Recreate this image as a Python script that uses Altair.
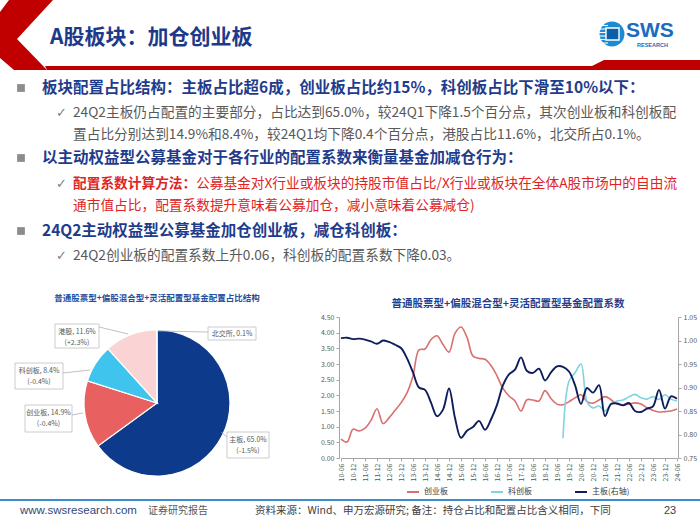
import altair as alt
import pandas as pd

FONT = "Noto Sans CJK SC"
LATIN = "Liberation Sans"

# ---------------- data ----------------
quarters = [
    "10-06", "10-09", "10-12",
    "11-03", "11-06", "11-09", "11-12",
    "12-03", "12-06", "12-09", "12-12",
    "13-03", "13-06", "13-09", "13-12",
    "14-03", "14-06", "14-09", "14-12",
    "15-03", "15-06", "15-09", "15-12",
    "16-03", "16-06", "16-09", "16-12",
    "17-03", "17-06", "17-09", "17-12",
    "18-03", "18-06", "18-09", "18-12",
    "19-03", "19-06", "19-09", "19-12",
    "20-03", "20-06", "20-09", "20-12",
    "21-03", "21-06", "21-09", "21-12",
    "22-03", "22-06", "22-09", "22-12",
    "23-03", "23-06", "23-09", "23-12",
    "24-03", "24-06",
]
tick_labels = [
    "10-06", "10-12", "11-06", "11-12", "12-06", "12-12", "13-06", "13-12",
    "14-06", "14-12", "15-06", "15-12", "16-06", "16-12", "17-06", "17-12",
    "18-06", "18-12", "19-06", "19-12", "20-06", "20-12", "21-06", "21-12",
    "22-06", "22-12", "23-06", "23-12", "24-06",
]
# 创业板 配置系数 (left axis)
chinext = [
    0.60, 0.51, 0.92, 0.86, 0.95, 1.20, 1.57, 1.10, 1.28, 1.52, 1.76,
    2.08, 2.62, 3.45, 3.48, 3.78, 3.90, 3.62, 3.38, 3.98, 4.18, 3.85, 3.25,
    3.18, 3.15, 2.95, 2.62, 2.22, 1.98, 1.82, 1.50, 1.86, 1.85, 1.82, 2.15,
    1.90, 1.72, 1.70, 1.80, 1.92, 2.02, 1.80, 1.75, 1.85, 1.96, 1.86, 1.72,
    1.70, 1.72, 1.76, 1.72, 1.60, 1.52, 1.47, 1.48, 1.50, 1.56,
]
# 科创板 配置系数 (left axis), from 19-09
star_start = "19-09"
star = [
    0.63, 2.45, 2.72, 3.00, 1.80, 1.60, 1.66, 1.50, 1.72, 1.82,
    1.85, 1.95, 2.03, 1.92, 1.88, 1.96, 1.87, 2.02, 1.88, 1.82,
]
# 主板 配置系数 (right axis)
main_board = [
    1.005, 1.006, 1.003, 1.004, 1.002, 0.998, 0.993, 1.000, 0.997, 0.991, 0.984,
    0.962, 0.932, 0.900, 0.895, 0.868, 0.839, 0.853, 0.898, 0.835, 0.793, 0.808, 0.816,
    0.829, 0.810, 0.832, 0.863, 0.905, 0.928, 0.938, 0.964, 0.935, 0.931, 0.940, 0.915,
    0.932, 0.945, 0.944, 0.934, 0.905, 0.865, 0.899, 0.889, 0.905, 0.839, 0.865, 0.866,
    0.862, 0.867, 0.850, 0.848, 0.855, 0.860, 0.895, 0.855, 0.881, 0.876,
]
series_names = ["创业板", "科创板", "主板(右轴)"]
left_ticks = [0.0, 0.5, 1.0, 1.5, 2.0, 2.5, 3.0, 3.5, 4.0, 4.5]
right_ticks = [0.75, 0.80, 0.85, 0.90, 0.95, 1.00, 1.05]

segments = ["主板", "创业板", "科创板", "港股", "北交所"]
shares = [65.0, 14.9, 8.4, 11.6, 0.1]
changes = ["-1.5%", "-0.4%", "-0.4%", "+2.3%", ""]

# ---------------- styles ----------------
RED = "#c00000"
BLUE_TXT = "#1f3c8c"
GRAY_TXT = "#595959"
line_colors = ["#d9706e", "#7fd4e0", "#0f1d5a"]
pie_colors = ["#0e3a8c", "#e8605f", "#3fc4ee", "#fad4d4", "#7f7f7f"]

one = pd.DataFrame({"k": [0]})


def txt(s, x, y, size, color, weight="normal", align="left", font=FONT):
    return alt.Chart(one).mark_text(
        text=s, fontSize=size, color=color, fontWeight=weight,
        align=align, baseline="middle", font=font,
    ).encode(x=alt.value(x), y=alt.value(y))


def rule(x1, y1, x2, y2, color, w):
    return alt.Chart(one).mark_rule(color=color, strokeWidth=w).encode(
        x=alt.value(x1), y=alt.value(y1), x2=alt.value(x2), y2=alt.value(y2))


def box(x1, y1, x2, y2, fill, stroke, w=0.8):
    return alt.Chart(one).mark_rect(fill=fill, stroke=stroke, strokeWidth=w).encode(
        x=alt.value(x1), y=alt.value(y1), x2=alt.value(x2), y2=alt.value(y2))


def polygons(polys, color):
    cx, cy, s = 350.0, 262.5, 350.0
    parts = []
    for pts in polys:
        parts.append("M" + " L".join(f"{(px - cx) / s:.5f},{(py - cy) / s:.5f}" for px, py in pts) + " Z")
    return alt.Chart(one).mark_point(
        shape=" ".join(parts), filled=True, size=(2 * s) ** 2, color=color,
        opacity=1, strokeWidth=0,
    ).encode(x=alt.value(cx), y=alt.value(cy))


layers = []

# ---------- header ----------
layers.append(polygons([
    [(9, 0), (53, 0), (17, 39), (47, 70), (14, 70), (0, 58), (0, 12)],
    [(45, 66), (592, 66), (604, 60), (700, 60), (700, 70), (47, 70)],
], RED))
layers.append(txt("A股板块：加仓创业板", 50, 38, 21, "#1d3a8a", "bold"))
# logo
layers.append(alt.Chart(one).mark_point(shape="circle", filled=True, size=620, color="#1a8ad4", opacity=1)
              .encode(x=alt.value(612), y=alt.value(34)))
for yy in [25.5, 29, 32.5, 36, 39.5, 43]:
    layers.append(rule(599, yy, 608, yy, "white", 1.1))
layers.append(box(606, 28, 619, 40, "#0d5fa8", "white", 1.4))
layers.append(txt("SWS", 626, 31, 21, "#1a6cbc", "bold", font=LATIN))
layers.append(txt("RESEARCH", 637, 45, 5.5, "#1a6cbc", "bold", font=LATIN))

# ---------- bullets ----------
def square(x, y):
    return alt.Chart(one).mark_square(size=60, color="#8c8c8c", opacity=1).encode(
        x=alt.value(x), y=alt.value(y))


def check(x, y):
    return txt("✓", x, y, 13, "#7f7f7f", font="DejaVu Sans")


layers += [
    square(21, 88),
    txt("板块配置占比结构：主板占比超6成，创业板占比约15%，科创板占比下滑至10%以下：", 42, 88, 15.5, BLUE_TXT, "bold"),
    check(56, 113),
    txt("24Q2主板仍占配置的主要部分，占比达到65.0%，较24Q1下降1.5个百分点，其次创业板和科创板配", 73, 113, 13.7, GRAY_TXT),
    txt("置占比分别达到14.9%和8.4%，较24Q1均下降0.4个百分点，港股占比11.6%，北交所占0.1%。", 73, 135, 13.7, GRAY_TXT),
    square(21, 158),
    txt("以主动权益型公募基金对于各行业的配置系数来衡量基金加减仓行为：", 42, 158, 15.5, BLUE_TXT, "bold"),
    check(56, 184),
    txt("配置系数计算方法：", 73, 184, 13.7, "#e02424", "bold"),
    txt("公募基金对X行业或板块的持股市值占比/X行业或板块在全体A股市场中的自由流", 196, 184, 13.7, "#e02424"),
    txt("通市值占比，配置系数提升意味着公募加仓，减小意味着公募减仓)", 73, 206, 13.7, "#e02424"),
    square(21, 231),
    txt("24Q2主动权益型公募基金加仓创业板，减仓科创板：", 42, 231, 15.5, BLUE_TXT, "bold"),
    check(56, 256),
    txt("24Q2创业板的配置系数上升0.06，科创板的配置系数下降0.03。", 73, 256, 13.7, GRAY_TXT),
]

# ---------- pie ----------
layers.append(txt("普通股票型+偏股混合型+灵活配置型基金配置占比结构", 157, 298, 8.5, "#1f4e9c", "bold", "center"))
pie_df = pd.DataFrame({"segment": segments, "share": shares, "order": list(range(len(segments)))})
pie = alt.Chart(pie_df).mark_arc(outerRadius=73, stroke="white", strokeWidth=1.2).encode(
    theta=alt.Theta("share:Q", stack=True),
    color=alt.Color("segment:N", scale=alt.Scale(domain=segments, range=pie_colors), legend=None),
    order=alt.Order("order:Q"),
    x=alt.value(157), y=alt.value(403),
)
layers.append(pie)

# pie callouts: (box x1, y1, x2, y2, leader x1, y1, x2, y2)
callouts = {
    "港股": (55, 324, 99, 348, 99, 327, 128, 334),
    "北交所": (208, 327, 256, 340, 208, 332, 158, 331),
    "科创板": (15, 363, 63, 389, 63, 373, 90, 370),
    "创业板": (25, 405, 72, 432, 72, 415, 83, 413),
    "主板": (227, 432, 269, 458, 227, 437, 221, 432),
}
for seg, share, chg in zip(segments, shares, changes):
    bx1, by1, bx2, by2, lx1, ly1, lx2, ly2 = callouts[seg]
    layers.append(rule(lx1, ly1, lx2, ly2, "#a6a6a6", 0.7))
    layers.append(box(bx1, by1, bx2, by2, "white", "#bfbfbf"))
    cxm = (bx1 + bx2) / 2
    if chg:
        layers.append(txt(f"{seg}, {share:.1f}%", cxm, by1 + 7.5, 7, GRAY_TXT, align="center"))
        layers.append(txt(f"({chg})", cxm, by1 + 18.5, 7, GRAY_TXT, align="center"))
    else:
        layers.append(txt(f"{seg}, {share:.1f}%", cxm, (by1 + by2) / 2, 7, GRAY_TXT, align="center"))

# ---------- line chart ----------
layers.append(txt("普通股票型+偏股混合型+灵活配置型基金配置系数", 508, 304, 10.5, "#1f3f8f", "bold", "center"))

x_scale = alt.Scale(type="point", domain=quarters, range=[341, 677], padding=0)
yl_scale = alt.Scale(domain=[0, 4.5], range=[458, 317], nice=False, zero=False)
yr_scale = alt.Scale(domain=[0.75, 1.05], range=[458, 317], nice=False, zero=False)
color_scale = alt.Scale(domain=series_names, range=line_colors)

axis_style = dict(title=None, labelFont=FONT, labelFontSize=7, labelColor=GRAY_TXT,
                  domainColor="#a6a6a6", tickColor="#a6a6a6", tickSize=3, grid=False,
                  labelPadding=2)
x_axis = alt.Axis(orient="bottom", offset=-67, values=tick_labels, labelAngle=270, **axis_style)
left_axis = alt.Axis(orient="left", offset=-339, values=left_ticks, format=".2f", **axis_style)
right_axis = alt.Axis(orient="right", offset=-22, values=right_ticks, format=".2f", **axis_style)
legend = alt.Legend(title=None, orient="none", legendX=406, legendY=485, direction="horizontal",
                    symbolType="stroke", symbolSize=144, symbolStrokeWidth=2, labelFont=FONT,
                    labelFontSize=8, labelColor="#404040", columnPadding=39, padding=0,
                    labelOffset=4)

cy_df = pd.DataFrame({"quarter": quarters, "value": chinext, "series": series_names[0]})
kc_df = pd.DataFrame({"quarter": quarters[quarters.index(star_start):], "value": star,
                      "series": series_names[1]})
mb_df = pd.DataFrame({"quarter": quarters, "value": main_board, "series": series_names[2]})


def line_layer(df, yscale, axis, w):
    return alt.Chart(df).mark_line(interpolate="catmull-rom", strokeWidth=w).encode(
        x=alt.X("quarter:O", scale=x_scale, axis=x_axis),
        y=alt.Y("value:Q", scale=yscale, axis=axis),
        color=alt.Color("series:N", scale=color_scale, legend=legend),
    )


left_lines = alt.layer(line_layer(cy_df, yl_scale, left_axis, 1.6),
                       line_layer(kc_df, yl_scale, left_axis, 1.6))
lines = alt.layer(left_lines, line_layer(mb_df, yr_scale, right_axis, 1.9)).resolve_scale(y="independent")
layers.append(lines)

# ---------- footer ----------
layers += [
    rule(0, 500, 700, 500, "#3a8ccc", 2),
    txt("www.swsresearch.com", 20, 511, 11.5, "#2e4a7c", font=LATIN),
    txt("证券研究报告", 148, 511, 10, GRAY_TXT),
    txt("资料来源：Wind、申万宏源研究; 备注：持仓占比和配置占比含义相同，下同", 255, 511, 10.5, "#404040"),
    txt("23", 670, 511, 11, "#404040", align="center", font=LATIN),
]

chart = alt.layer(*layers).resolve_scale(color="independent").properties(
    width=700, height=525, padding=0, autosize="none", background="white",
).configure_view(stroke=None)

chart.save("out.html", embed_options={"renderer": "svg", "actions": False})
